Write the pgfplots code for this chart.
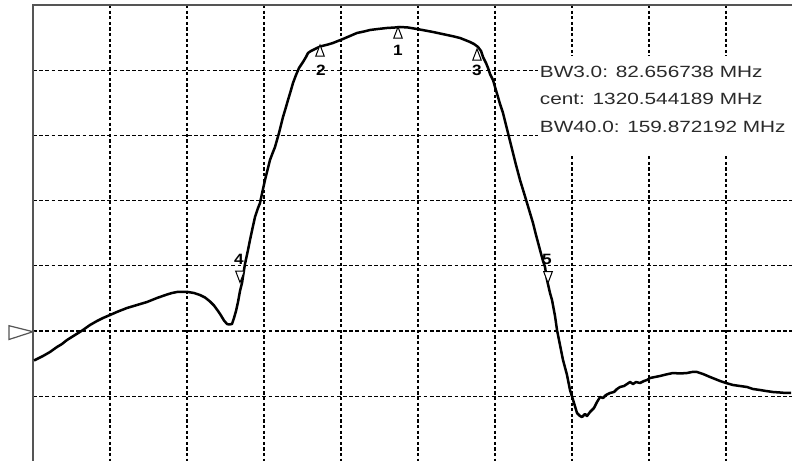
\documentclass[border=0pt]{standalone}
\usepackage{fontspec}
\setmainfont{Liberation Sans}
\usepackage{graphicx}
\usepackage{pgfplots}
\pgfplotsset{compat=1.18}

\definecolor{frame}{HTML}{555555}
\definecolor{txt}{HTML}{2A2A2A}

% labels of the markers: bold, a little wide
\newcommand{\mk}[1]{\fontsize{15}{15}\selectfont\bfseries\scalebox{1.15}[1]{#1}}
\newcommand{\bw}[1]{\fontsize{16.3}{16.3}\selectfont\scalebox{1.28}[1]{#1}}

\begin{document}
\begin{tikzpicture}[x=1bp,y=1bp]
\useasboundingbox (0,0) rectangle (792,461);
\begin{axis}[
  at={(33bp,0bp)}, anchor=south west,
  scale only axis, width=759bp, height=456bp,
  xmin=33, xmax=792, ymin=5, ymax=461, y dir=reverse,
  clip=false,
  axis line style={draw=none},
  tick style={draw=none},
  xticklabels={}, yticklabels={},
  xtick={110,187,264,341,418,495,572,649,726},
  ytick={70.2,135.4,200.6,265.8,331,396.2},
  xmajorgrids, ymajorgrids,
  x grid style={black, line width=1.3bp, dash pattern=on 3.2bp off 2.4bp},
  y grid style={black, line width=1.3bp, dash pattern=on 3.8bp off 2.4bp},
]
% box behind the read-out
\fill[white] (axis cs:538,56) rectangle (axis cs:792,154);

% frame: top and left only
\draw[frame, line width=1.8bp] (axis cs:33,461) -- (axis cs:33,5) -- (axis cs:792,5);

% trace
\addplot[black, line width=2.5bp, line join=round, sharp plot] coordinates {
(34,360.5)(38,358.5)(43,356)(50,352)(57,347)(62,344)(67,340)(75,335)(83,330)(90,325)
(97,321)(103,318)(110,315)(118,311.5)(127,308)(137,305)(147,302)(157,298)(167,294.5)
(172,293)(177,292)(183,292)(188,292)(194,293)(200,295)(205,297.5)(210,301.5)(214,305.5)
(218,311)(221,315.5)(224,320.5)(227,324)(229,324.5)(232,324)(234,318)(236,311)(238,302)
(240,291)(242,283)(244,270)(245,264)(248,250)(250,240)(253,226)(255,217)(258,208)
(260,203)(263,189)(265,180)(268,168)(270,160)(273,152)(275,147)(277,140)(279,133)
(281,125)(283,117)(286,107)(288,100)(291,90)(293,83)(296,75)(299,68)(301,65)(303,62)
(306,57)(308,53)(311,51)(313,50)(318,47.5)(322,46)(328,44.5)(333,43)(338,41)(343,39)
(350,36)(357,33)(364,31.5)(370,30)(378,29)(387,28)(395,27.5)(400,27)(408,27.5)(417,29)
(425,30.5)(433,32)(440,33.5)(447,35)(454,36.5)(460,38)(465,40)(470,42)(474,44)(478,47)
(481,51)(483,57)(486,63)(488,68)(490,74)(493,80)(495,87)(498,97)(500,104)(503,113)
(505,121)(508,133)(510,141)(513,153)(516,165)(520,180)(524,193)(527,203)(530,213)
(533,223)(536,235)(540,250)(543,261)(545,267)(547,280)(550,293)(552,300)(555,316)
(557,330)(560,345)(563,360)(567,375)(570,390)(574,403)(577,413)(580,416)(582,417)
(585,414)(587,416)(590,412)(594,408)(597,402)(600,397)(603,398)(606,395)(610,393)
(614,392)(617,389)(620,387)(624,386)(627,384)(630,382)(633,384)(636,382)(640,383)
(644,381)(647,380)(650,378)(655,377)(660,376)(666,374.5)(673,373)(680,373.5)(687,373)
(692,372)(697,372)(703,374)(710,377)(715,379)(720,381)(726,383)(733,385)(740,386)
(747,387)(753,389)(760,390)(766,391)(773,392)(780,392.5)(786,393)(791,393)
};

% markers 1-3 (pointing up) and 4-5 (pointing down)
\addplot[only marks, mark=triangle*, mark size=7.5bp,
  mark options={xscale=0.66, draw=black, fill=white, line width=1bp}]
  coordinates {(398,34.5)(320,52.5)(477,56.5)};
\addplot[only marks, mark=triangle*, mark size=7.5bp,
  mark options={xscale=0.66, rotate=180, draw=black, fill=white, line width=1bp}]
  coordinates {(240,275)(548,275.5)};

\node[text=black] at (axis cs:398,50) {\mk{1}};
\node[text=black] at (axis cs:321,70) {\mk{2}};
\node[text=black] at (axis cs:477,70) {\mk{3}};
\node[text=black] at (axis cs:239,259) {\mk{4}};
\node[text=black] at (axis cs:547,259) {\mk{5}};

% reference level
\draw[frame, fill=white, line width=1.2bp] (axis cs:9,325.7) -- (axis cs:33,331.7) -- (axis cs:9,339.5) -- cycle;

% read-out
\node[anchor=base west, inner sep=0pt, text=txt] at (axis cs:539.7,77.3) {\bw{BW3.0: 82.656738 MHz}};
\node[anchor=base west, inner sep=0pt, text=txt] at (axis cs:539.7,104.8) {\bw{cent: 1320.544189 MHz}};
\node[anchor=base west, inner sep=0pt, text=txt] at (axis cs:539.7,132.3) {\bw{BW40.0: 159.872192 MHz}};
\end{axis}
\end{tikzpicture}
\end{document}
